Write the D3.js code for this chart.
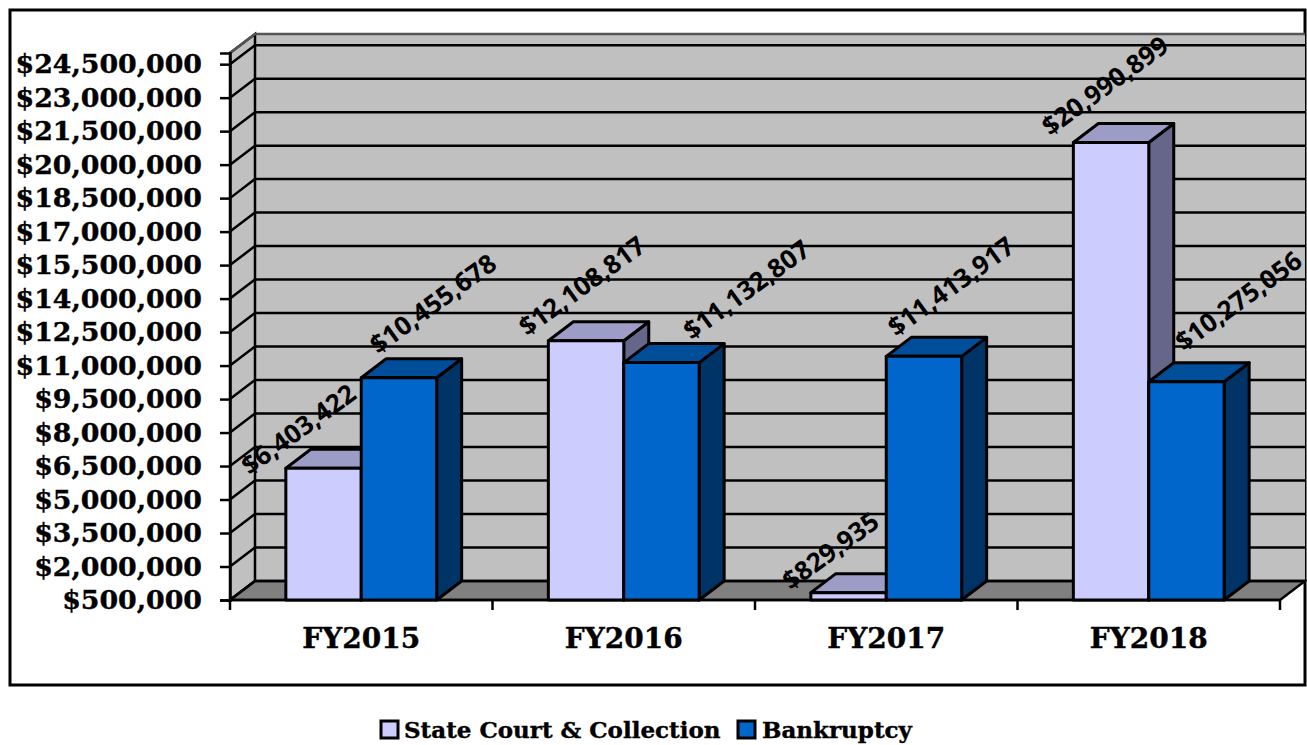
<!DOCTYPE html>
<html>
<head>
<meta charset="utf-8">
<script src="https://d3js.org/d3.v7.min.js"></script>
<style>
  html, body { margin: 0; background: #fff; }
  svg { display: block; }
  .tick-text { font-family: "DejaVu Serif", serif; font-weight: bold; fill: #000; stroke: #000; stroke-width: 0.4px; }
  .data-label { font-family: "Open Sans", sans-serif; font-weight: 700; font-size: 26px; fill: #000; }
</style>
</head>
<body>
<svg id="chart" width="1307" height="745"></svg>
<script>
var categories = ["FY2015", "FY2016", "FY2017", "FY2018"];
var seriesNames = ["State Court & Collection", "Bankruptcy"];
var stateCourt = [6403422, 12108817, 829935, 20990899];
var bankruptcy = [10455678, 11132807, 11413917, 10275056];
var tickValues = [500000, 2000000, 3500000, 5000000, 6500000, 8000000, 9500000, 11000000, 12500000,
                  14000000, 15500000, 17000000, 18500000, 20000000, 21500000, 23000000, 24500000];

// the labels in the picture sit by hand, so each one gets its own nudge
var stateNudge = [[-38, -30], [-17, -46], [-31, -33], [-19, -48]];
var bankNudge = [[21, -65], [72, -64], [14, -61], [39, -72]];

var colors = [
  {front: "#ccccff", top: "#9c9cc6", side: "#66668a"},
  {front: "#0066cc", top: "#004d99", side: "#003366"}
];

var left = 230, right = 1280, bottom = 600, top_ = 53;
var depthX = 25, depthY = -19;
var frameRight = 1305;

var svg = d3.select("#chart");

var y = d3.scaleLinear().domain([500000, 25000000]).range([bottom, top_]);
var x0 = d3.scaleBand().domain(categories).range([left, right]);
var barW = 75.4;
var x1 = d3.scaleBand().domain(seriesNames)
    .range([(x0.bandwidth() - barW * 2) / 2, (x0.bandwidth() + barW * 2) / 2]);

function pts(a) { return a.map(function(p){ return p.join(","); }).join(" "); }

// outer frame
svg.append("rect")
    .attr("x", 10).attr("y", 10)
    .attr("width", frameRight - 10).attr("height", 675)
    .attr("fill", "#fff").attr("stroke", "#000").attr("stroke-width", 3);

// back wall, side wall and floor
svg.append("polygon")
    .attr("points", pts([[left + depthX, top_ + depthY], [frameRight, top_ + depthY],
                         [frameRight, bottom + depthY], [left + depthX, bottom + depthY]]))
    .attr("fill", "#c0c0c0");
svg.append("polygon")
    .attr("points", pts([[left, top_], [left + depthX, top_ + depthY],
                         [left + depthX, bottom + depthY], [left, bottom]]))
    .attr("fill", "#c0c0c0").attr("stroke", "#000").attr("stroke-width", 2.5);
svg.append("polygon")
    .attr("points", pts([[left, bottom], [left + depthX, bottom + depthY],
                         [frameRight, bottom + depthY], [right, bottom]]))
    .attr("fill", "#808080").attr("stroke", "#000").attr("stroke-width", 2.5);

// grid lines, wall to wall
var grid = svg.append("g").attr("fill", "none").attr("stroke", "#000").attr("stroke-width", 2.5);
tickValues.concat([25000000]).forEach(function(v){
  grid.append("polyline")
      .attr("points", pts([[left, y(v)], [left + depthX, y(v) + depthY], [frameRight, y(v) + depthY]]))
      .attr("stroke", v == 25000000 ? "#555" : "#000");
});

// value axis
var yAxis = d3.axisLeft(y).tickValues(tickValues).tickSize(10).tickPadding(18)
    .tickFormat(function(d){ return "$" + d3.format(",")(d); });
var yG = svg.append("g").attr("transform", "translate(" + left + ",0)").call(yAxis);
yG.select(".domain").attr("stroke", "#000").attr("stroke-width", 2.5);
yG.selectAll(".tick line").attr("stroke", "#000").attr("stroke-width", 2.5);
yG.selectAll("text").attr("class", "tick-text").style("font-size", "26.8px");
yG.attr("font-family", null).attr("font-size", null);

// category axis, labels mid band and ticks on the band edges
var xAxis = d3.axisBottom(x0).tickSize(0).tickPadding(28);
var xG = svg.append("g").attr("transform", "translate(0," + bottom + ")").call(xAxis);
xG.select(".domain").remove();
xG.selectAll("text").attr("class", "tick-text").style("font-size", "28px");
xG.attr("font-family", null).attr("font-size", null);

categories.forEach(function(c){
  svg.append("line").attr("x1", x0(c)).attr("x2", x0(c)).attr("y1", bottom).attr("y2", bottom + 10)
      .attr("stroke", "#000").attr("stroke-width", 2.5);
});
svg.append("line").attr("x1", right).attr("x2", right).attr("y1", bottom).attr("y2", bottom + 10)
    .attr("stroke", "#000").attr("stroke-width", 2.5);
svg.append("line").attr("x1", left).attr("x2", right).attr("y1", bottom).attr("y2", bottom)
    .attr("stroke", "#000").attr("stroke-width", 2.5);

// bars, one series after the other so the right bar covers the side of the left one
[stateCourt, bankruptcy].forEach(function(values, s){
  var g = svg.append("g").attr("stroke", "#000").attr("stroke-width", 3).attr("stroke-linejoin", "round");
  values.forEach(function(v, i){
    var xl = x0(categories[i]) + x1(seriesNames[s]);
    var xr = xl + barW;
    var yt = y(v);
    g.append("polygon")
        .attr("points", pts([[xr, yt], [xr + depthX, yt + depthY], [xr + depthX, bottom + depthY], [xr, bottom]]))
        .attr("fill", colors[s].side);
    g.append("polygon")
        .attr("points", pts([[xl, yt], [xl + depthX, yt + depthY], [xr + depthX, yt + depthY], [xr, yt]]))
        .attr("fill", colors[s].top);
    g.append("rect")
        .attr("x", xl).attr("y", yt)
        .attr("width", barW).attr("height", bottom - yt)
        .attr("fill", colors[s].front);
  });
});

// data labels go on last
[[stateCourt, stateNudge], [bankruptcy, bankNudge]].forEach(function(pair, s){
  pair[0].forEach(function(v, i){
    var cx = x0(categories[i]) + x1(seriesNames[s]) + barW / 2 + depthX / 2 + pair[1][i][0];
    var cy = y(v) + depthY / 2 + pair[1][i][1];
    svg.append("text")
        .attr("class", "data-label")
        .attr("text-anchor", "middle")
        .attr("dominant-baseline", "central")
        .attr("transform", "translate(" + cx + "," + cy + ") rotate(-36)")
        .text("$" + d3.format(",")(v));
  });
});

// legend
var legend = [{name: seriesNames[0], sw: 380, tx: 404}, {name: seriesNames[1], sw: 737, tx: 762}];
legend.forEach(function(d, i){
  svg.append("rect").attr("x", d.sw + 1).attr("y", 721).attr("width", 17).attr("height", 17)
      .attr("fill", colors[i].front).attr("stroke", "#000").attr("stroke-width", 3);
  svg.append("text").attr("class", "tick-text").attr("x", d.tx).attr("y", 738)
      .style("font-size", "23px").text(d.name);
});
</script>
</body>
</html>
